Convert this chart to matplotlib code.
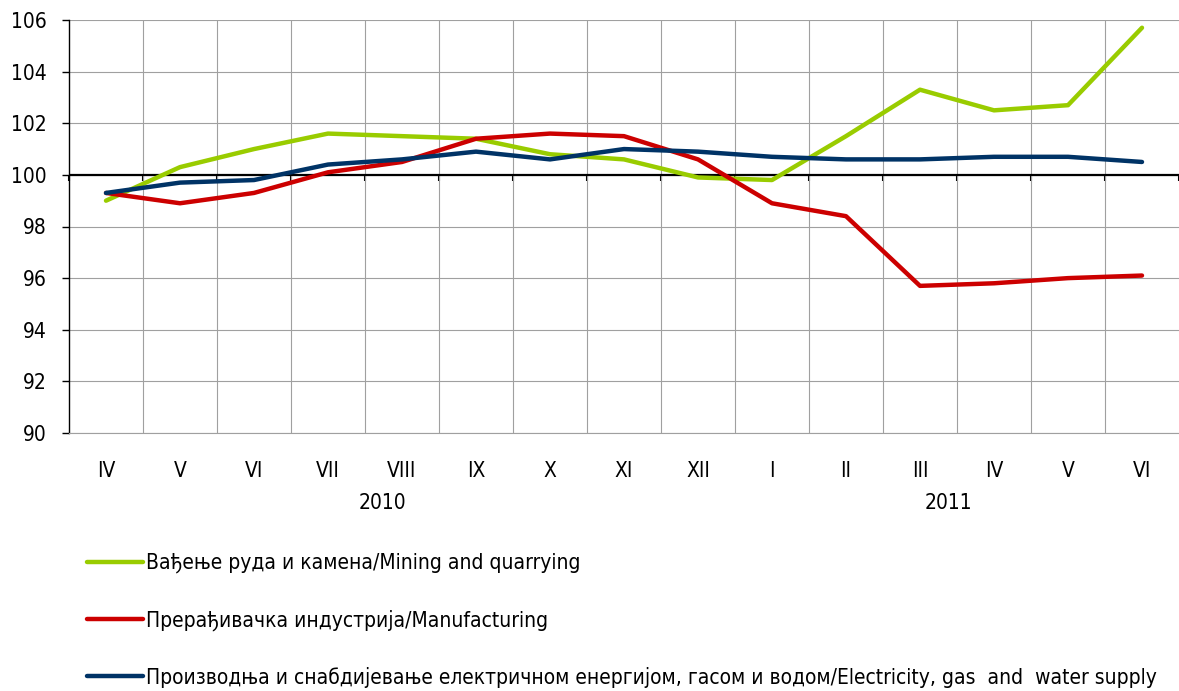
import matplotlib
matplotlib.use("Agg")
import matplotlib.pyplot as plt
import numpy as np

# Months (Roman numerals), April 2010 - June 2011
months = ["IV", "V", "VI", "VII", "VIII", "IX", "X", "XI", "XII",
          "I", "II", "III", "IV", "V", "VI"]
years = ["2010", "2011"]
year_pos = [3.74, 11.38]

mining = [99.0, 100.3, 101.0, 101.6, 101.5, 101.4, 100.8, 100.6, 99.9,
          99.8, 101.5, 103.3, 102.5, 102.7, 105.7]
manufacturing = [99.3, 98.9, 99.3, 100.1, 100.5, 101.4, 101.6, 101.5, 100.6,
                 98.9, 98.4, 95.7, 95.8, 96.0, 96.1]
electricity = [99.3, 99.7, 99.8, 100.4, 100.6, 100.9, 100.6, 101.0, 100.9,
               100.7, 100.6, 100.6, 100.7, 100.7, 100.5]

labels = ["Вађење руда и камена/Mining and quarrying",
          "Прерађивачка индустрија/Manufacturing",
          "Производња и снабдијевање електричном енергијом, гасом и водом/Electricity, gas  and  water supply"]
colors = ["#99CC00", "#CC0000", "#003366"]

plt.rcParams['font.family'] = ['DejaVu Sans']
plt.rcParams['font.stretch'] = 'condensed'
fs = 15

fig = plt.figure(figsize=(11.79, 6.91), dpi=100)
ax = fig.add_axes([69 / 1179, 1 - 433 / 691, 1110 / 1179, 413 / 691])

x = np.arange(len(months))
for data, lab, col in zip([mining, manufacturing, electricity], labels, colors):
    ax.plot(x, data, color=col, lw=3.2, label=lab, solid_capstyle='round', zorder=3)

ax.set_xlim(-0.5, len(months) - 0.5)
ax.set_ylim(90, 106)
ax.set_yticks(np.arange(90, 107, 2))

# category labels below the plot, gridlines at category boundaries
ax.set_xticks(x)
ax.set_xticklabels(months, fontsize=fs)
ax.set_xticks(np.arange(0.5, len(months) - 1, 1), minor=True)
ax.tick_params(axis='x', which='both', length=0, pad=20)
ax.grid(axis='x', which='minor', color='#A0A0A0', lw=0.8)
ax.grid(axis='y', which='major', color='#A0A0A0', lw=0.8)
ax.set_axisbelow(True)

ax.tick_params(axis='y', labelsize=fs, length=5, width=1, pad=11, color='black')

for s in ['top', 'right']:
    ax.spines[s].set_visible(False)
ax.spines['bottom'].set_color('#A0A0A0')
ax.spines['bottom'].set_linewidth(0.8)
ax.spines['left'].set_color('black')
ax.spines['left'].set_linewidth(1)

# axis line at 100 with tick marks pointing down
ax.axhline(100, color='black', lw=1.6, zorder=2)
sec = ax.secondary_xaxis((100 - 90) / 16)
sec.set_xticks(np.arange(-0.5, len(months), 1))
sec.tick_params(axis='x', which='both', top=False, bottom=True,
                labeltop=False, labelbottom=False,
                direction='out', length=4.5, width=1.5, color='black')
sec.spines['top'].set_visible(False)
sec.spines['bottom'].set_visible(False)

for yr, xp in zip(years, year_pos):
    ax.annotate(yr, xy=(xp, 0), xycoords=('data', 'axes fraction'),
                xytext=(0, -50.5), textcoords='offset points',
                ha='center', va='center', fontsize=fs)

fig.legend(loc='upper left', bbox_to_anchor=(87 / 1179, 1 - 553 / 691),
           frameon=False, fontsize=fs, handlelength=2.7, handletextpad=0.15,
           labelspacing=1.72, borderaxespad=0, borderpad=0)

fig.savefig("out.png", dpi=100)
